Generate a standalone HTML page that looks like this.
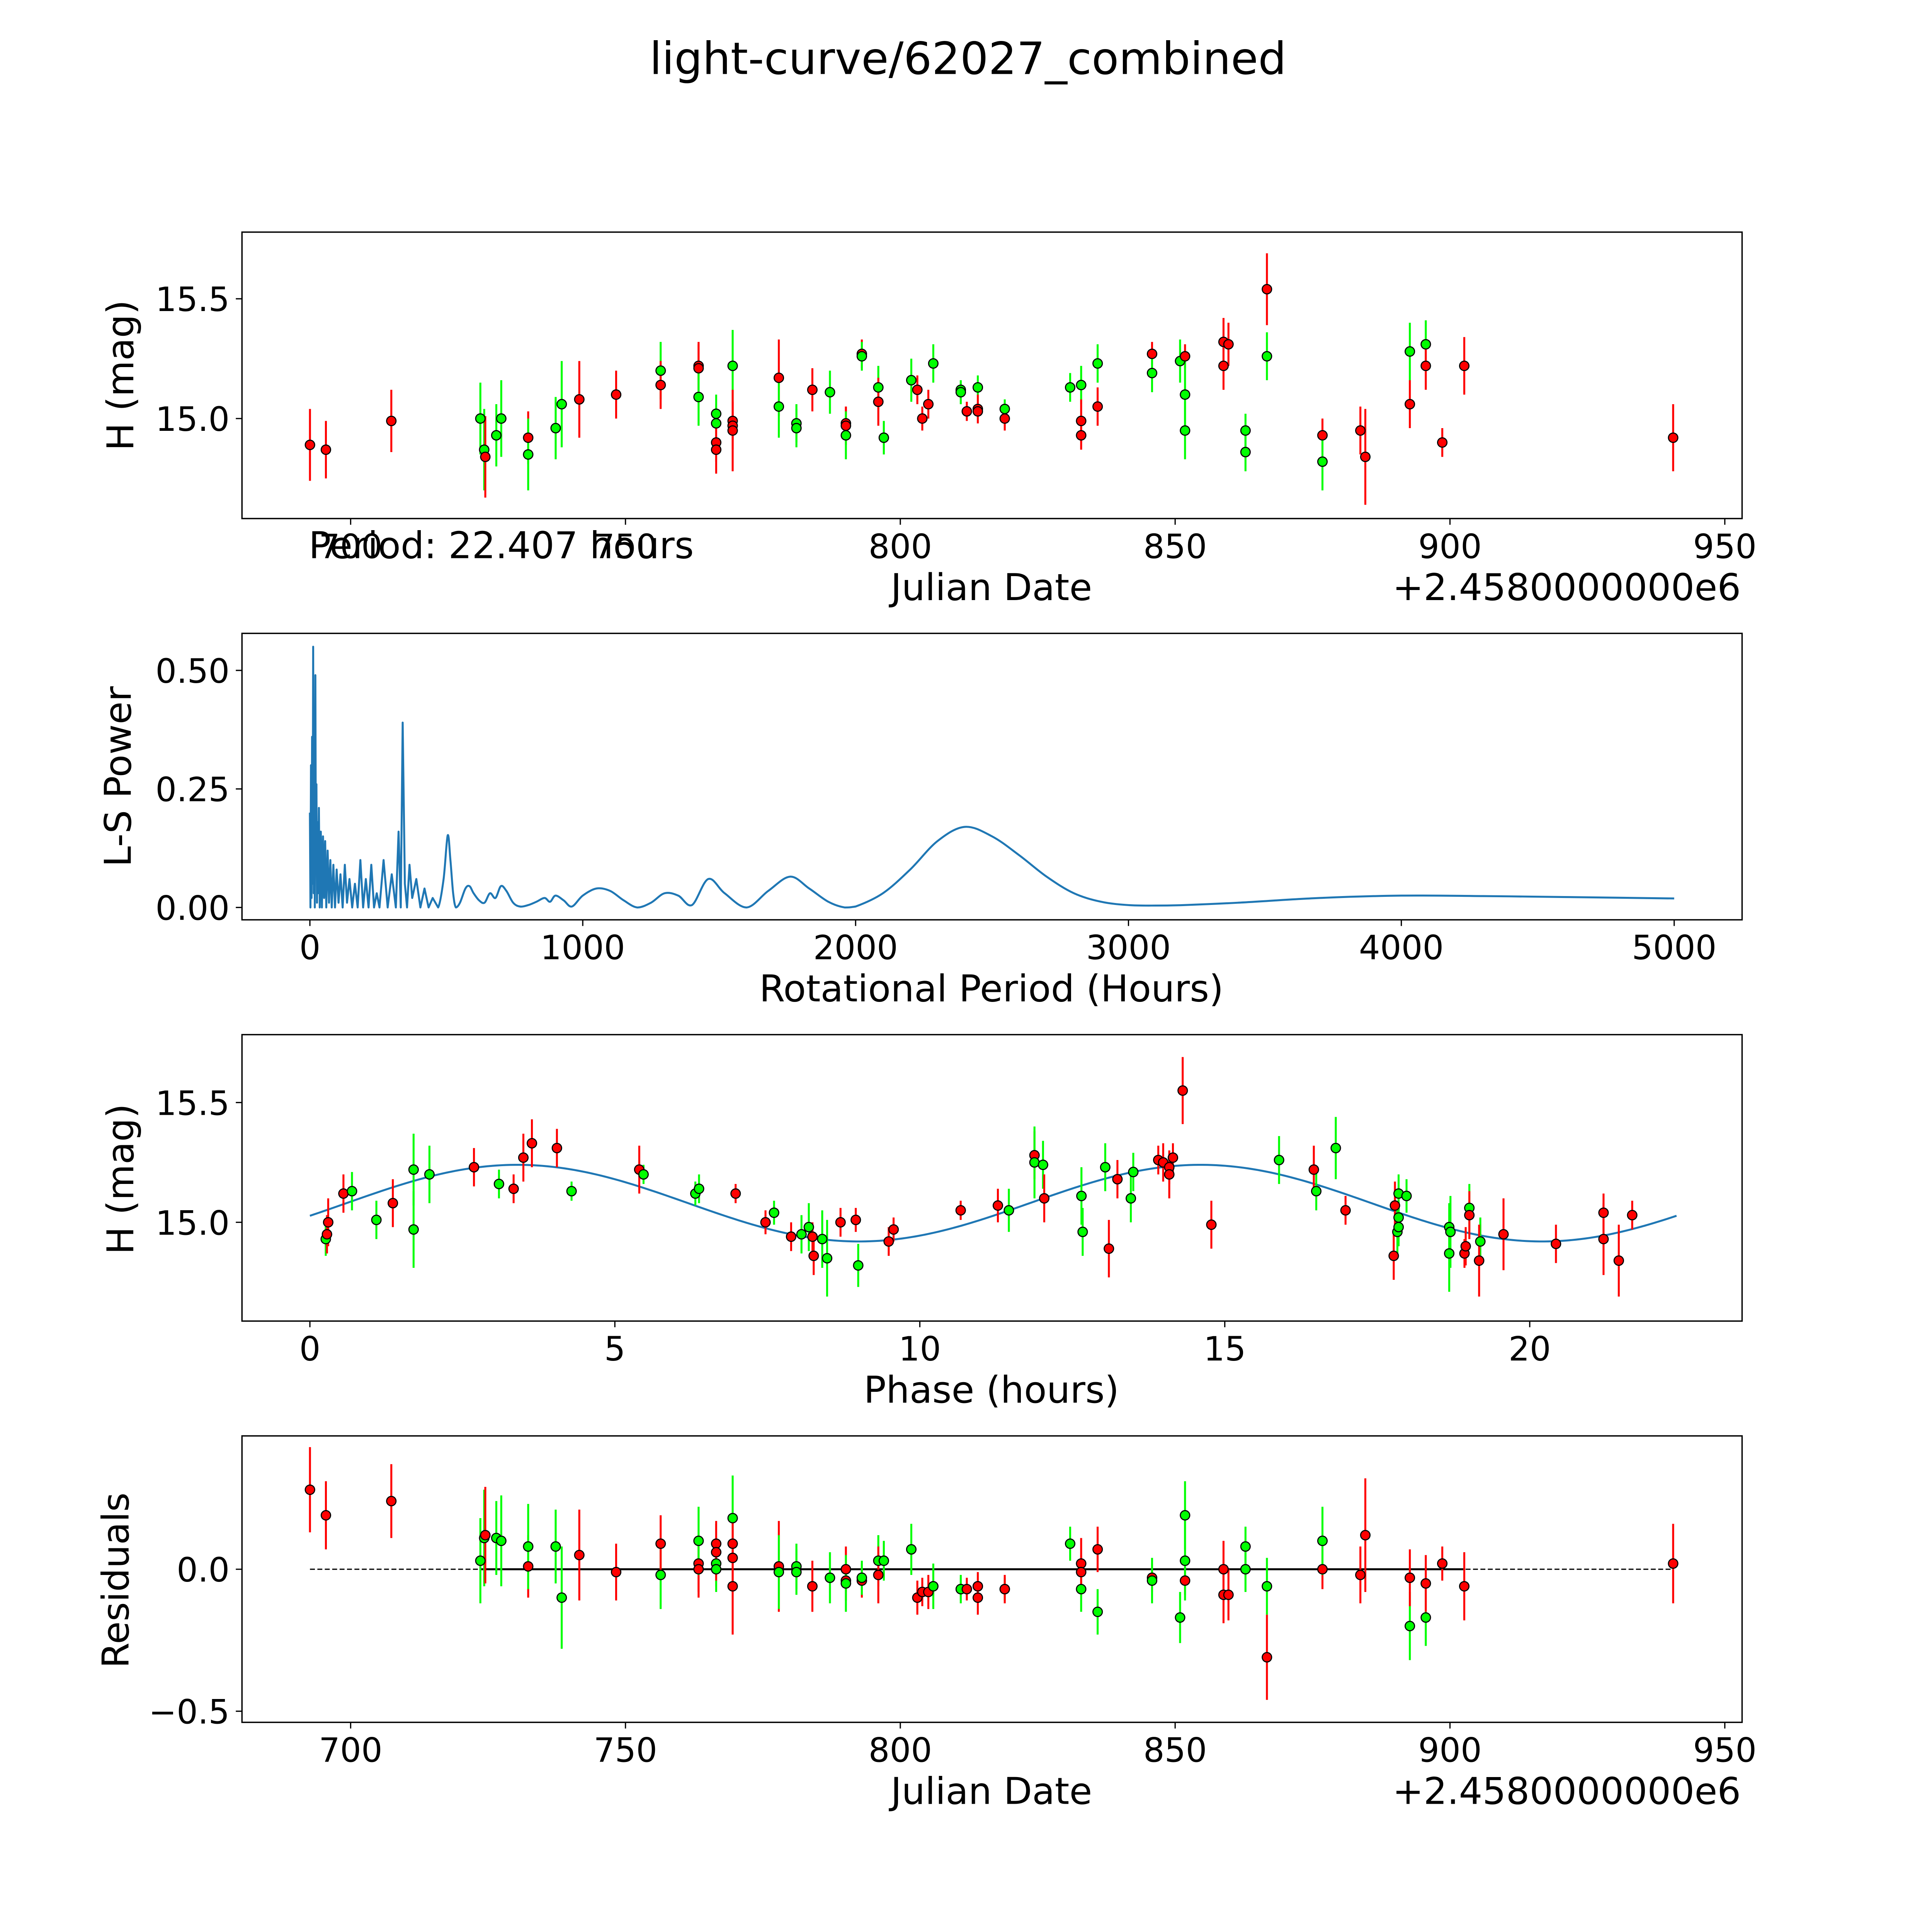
<!DOCTYPE html>
<html><head><meta charset="utf-8"><style>
html,body{margin:0;padding:0;background:#fff;width:5400px;height:5400px;overflow:hidden;}
svg{display:block;width:5400px;height:5400px;font-family:"DejaVu Sans","Liberation Sans",sans-serif;}
</style></head><body>
<svg id="fig" width="5400" height="5400" viewBox="0 0 1690 1690" preserveAspectRatio="xMinYMin meet" xmlns="http://www.w3.org/2000/svg">
<rect x="0" y="0" width="1690" height="1690" fill="#fff"/>
<text x="784" y="60" font-size="36" text-anchor="middle">light-curve/62027_combined</text>
</svg>
<script>
// ---------- Panel 1: light curve (Julian Date offset, mag) ----------
const lcDays = [692.6,695.5,707.4,723.6,724.3,724.5,726.5,727.4,732.3,732.3,737.3,738.4,741.6,748.3,756.4,756.4,763.3,763.3,763.3,766.5,766.5,766.5,766.5,769.5,769.5,769.5,769.5,777.9,777.9,781.1,781.1,784.0,787.2,790.1,790.1,790.1,793.0,793.0,796.0,796.0,797.0,802.0,803.1,804.0,805.1,806.0,811.0,811.0,812.1,814.1,814.1,814.1,819.0,819.0,830.9,832.9,832.9,832.9,835.9,835.9,845.8,845.8,850.9,851.8,851.8,851.8,858.8,858.8,859.7,862.8,862.8,866.7,866.7,876.8,876.8,883.7,884.6,892.7,892.7,895.6,895.6,898.6,902.6,940.6];
const lcMags = [14.89,14.87,14.99,15.0,14.87,14.84,14.93,15.0,14.92,14.85,14.96,15.06,15.08,15.10,15.20,15.14,15.22,15.21,15.09,15.02,14.98,14.90,14.87,15.22,14.99,14.97,14.95,15.17,15.05,14.98,14.96,15.12,15.11,14.98,14.97,14.93,15.27,15.26,15.13,15.07,14.92,15.16,15.12,15.0,15.06,15.23,15.12,15.11,15.03,15.13,15.04,15.03,15.04,15.0,15.13,15.14,14.99,14.93,15.23,15.05,15.27,15.19,15.24,15.26,15.10,14.95,15.32,15.22,15.31,14.95,14.86,15.54,15.26,14.93,14.82,14.95,14.84,15.28,15.06,15.31,15.22,14.90,15.22,14.92];
const lcErrs = [0.15,0.12,0.13,0.15,0.17,0.17,0.13,0.16,0.11,0.15,0.13,0.18,0.16,0.1,0.12,0.1,0.1,0.1,0.12,0.08,0.08,0.08,0.1,0.15,0.08,0.1,0.17,0.16,0.13,0.08,0.08,0.09,0.09,0.07,0.08,0.1,0.06,0.06,0.09,0.1,0.07,0.09,0.06,0.05,0.06,0.08,0.04,0.05,0.04,0.05,0.06,0.05,0.04,0.05,0.06,0.08,0.09,0.06,0.08,0.08,0.05,0.08,0.09,0.05,0.14,0.12,0.1,0.1,0.09,0.07,0.08,0.15,0.1,0.07,0.12,0.1,0.2,0.12,0.1,0.1,0.1,0.06,0.12,0.14];
const lcFilters = ["r","r","r","g","g","r","g","g","r","g","g","g","r","r","g","r","r","r","g","g","g","r","r","g","r","r","r","r","g","g","g","r","g","r","r","g","r","g","g","r","g","g","r","r","r","g","g","g","r","g","r","r","g","r","g","g","r","r","g","r","r","g","g","r","g","g","r","r","r","g","g","r","g","r","g","r","r","g","r","g","r","r","r","r"];
// ---------- Panel 4: residuals (same observations as panel 1) ----------
const residuals = [0.28,0.19,0.24,0.03,0.11,0.12,0.11,0.10,0.01,0.08,0.08,-0.10,0.05,-0.01,-0.02,0.09,0.02,0.0,0.10,0.02,0.0,0.09,0.06,0.18,0.09,0.04,-0.06,0.01,-0.01,0.01,-0.01,-0.06,-0.03,-0.04,0.0,-0.05,-0.04,-0.03,0.03,-0.02,0.03,0.07,-0.10,-0.08,-0.08,-0.06,-0.07,-0.07,-0.07,-0.06,-0.10,-0.06,-0.07,-0.07,0.09,-0.07,0.02,-0.01,-0.15,0.07,-0.03,-0.04,-0.17,-0.04,0.03,0.19,0.0,-0.09,-0.09,0.08,0.0,-0.31,-0.06,0.0,0.10,-0.02,0.12,-0.20,-0.03,-0.17,-0.05,0.02,-0.06,0.02];
// ---------- Panel 3: phased light curve ----------
const phaseHours = [0.26,0.28,0.30,0.55,0.69,1.09,1.36,1.70,1.70,1.96,2.69,3.10,3.34,3.50,3.64,4.05,4.29,5.40,5.47,6.32,6.38,6.98,7.47,7.61,7.89,8.06,8.18,8.24,8.26,8.40,8.48,8.70,8.95,8.99,9.49,9.57,10.67,11.28,11.46,11.88,11.88,12.02,12.04,12.65,12.67,13.10,13.04,13.24,13.46,13.50,13.91,13.99,14.09,14.15,14.09,14.31,14.78,15.89,16.46,16.50,16.82,16.98,17.79,17.77,17.83,17.85,17.85,17.85,17.98,18.68,18.70,18.68,18.93,18.95,19.01,19.01,19.19,19.17,19.57,20.43,21.21,21.21,21.46,21.68];
const phaseMags = [14.93,14.95,15.0,15.12,15.13,15.01,15.08,15.22,14.97,15.20,15.23,15.16,15.14,15.27,15.33,15.31,15.13,15.22,15.20,15.12,15.14,15.12,15.0,15.04,14.94,14.95,14.98,14.94,14.86,14.93,14.85,15.0,15.01,14.82,14.92,14.97,15.05,15.07,15.05,15.28,15.25,15.24,15.10,15.11,14.96,14.89,15.23,15.18,15.10,15.21,15.26,15.25,15.23,15.27,15.20,15.55,14.99,15.26,15.22,15.13,15.31,15.05,15.07,14.86,14.96,14.98,15.02,15.12,15.11,14.98,14.96,14.87,14.87,14.90,15.06,15.03,14.92,14.84,14.95,14.91,15.04,14.93,14.84,15.03];
const phaseErrs = [0.07,0.08,0.1,0.08,0.08,0.08,0.1,0.15,0.16,0.12,0.08,0.06,0.06,0.1,0.1,0.08,0.04,0.1,0.04,0.05,0.06,0.04,0.05,0.05,0.06,0.08,0.1,0.06,0.08,0.12,0.16,0.06,0.05,0.09,0.06,0.05,0.04,0.07,0.09,0.1,0.15,0.1,0.1,0.12,0.1,0.12,0.1,0.08,0.1,0.08,0.06,0.08,0.07,0.06,0.1,0.14,0.1,0.1,0.1,0.08,0.13,0.06,0.1,0.1,0.1,0.08,0.08,0.08,0.07,0.1,0.15,0.16,0.06,0.08,0.1,0.1,0.1,0.15,0.15,0.08,0.08,0.15,0.15,0.06];
const phaseFilters = ["g","r","r","r","g","g","r","g","g","g","r","g","r","r","r","r","g","r","g","g","g","r","r","g","r","g","g","r","r","g","g","r","r","g","r","r","r","r","g","r","g","g","r","g","g","r","g","r","g","g","r","r","r","r","r","r","r","g","r","g","g","r","r","r","g","g","g","g","g","g","g","g","r","r","g","r","g","r","r","r","r","r","r","r"];
const fitPeriod = [22.407];
const fitParams = [15.08, 0.16, 3.4]; // mean, amplitude, peak phase (2-harmonic)
// ---------- Panel 2: periodogram ----------
const lsPeriods = [0,2,4,6,8,10,12,14,16,18,20,22,24,26,28,30,33,36,40,44,48,52,56,60,65,70,75,80,86,92,98,105,112,120,128,136,145,155,165,175,185,195,205,215,225,235,245,255,270,285,300,315,325,333,340,348,356,365,375,390,405,420,435,450,470,490,505,515,525,535,550,570,585,600,620,640,660,680,700,720,745,770,800,830,860,880,900,930,960,1000,1050,1100,1150,1200,1250,1300,1350,1400,1460,1520,1600,1680,1760,1830,1900,1960,2000,2100,2200,2300,2400,2500,2600,2700,2800,2900,3000,3100,3200,3400,3700,4000,4300,4600,5000];
const lsPower = [0.2,0.0,0.3,0.02,0.36,0.05,0.55,0.03,0.42,0.0,0.49,0.1,0.26,0.01,0.18,0.03,0.21,0.0,0.16,0.0,0.15,0.02,0.14,0.0,0.12,0.01,0.1,0.0,0.09,0.0,0.08,0.01,0.07,0.0,0.09,0.01,0.06,0.0,0.05,0.0,0.1,0.0,0.06,0.0,0.09,0.0,0.03,0.0,0.1,0.0,0.07,0.0,0.16,0.0,0.39,0.05,0.0,0.09,0.02,0.06,0.0,0.04,0.0,0.02,0.0,0.06,0.152,0.1,0.03,0.0,0.01,0.04,0.045,0.03,0.015,0.01,0.03,0.02,0.045,0.035,0.01,0.002,0.005,0.012,0.02,0.012,0.025,0.015,0.002,0.025,0.04,0.035,0.015,0.0,0.01,0.03,0.025,0.005,0.06,0.03,0.0,0.035,0.065,0.04,0.012,0.0,0.002,0.03,0.08,0.14,0.17,0.15,0.11,0.065,0.03,0.012,0.005,0.004,0.005,0.01,0.02,0.025,0.024,0.022,0.019];

const NS = "http://www.w3.org/2000/svg";
const svg = document.getElementById('fig');
const TICK_FS = 27, LABEL_FS = 30;
function el(tag, attrs, parent){ const e=document.createElementNS(NS,tag); for(const k in attrs) e.setAttribute(k,attrs[k]); (parent||svg).appendChild(e); return e; }
function txt(x,y,s,size,anchor,parent){ const t=el('text',{x:x,y:y,'font-size':size,'text-anchor':anchor},parent); t.textContent=s; return t; }
function lin(d0,d1,p0,p1){ return v=>p0+(v-d0)*(p1-p0)/(d1-d0); }
const COL={r:'#ff0000',g:'#00ff00'};

function frame(y0,y1,name){
  const g=el('g',{});
  
  
  const r=el('rect',{x:196,y:y0,width:1215,height:y1-y0,fill:'none',stroke:'#000','stroke-width':1.1},g);
  
  
  return g;
}
function xTicks(g,sx,vals,labels,yb){
  vals.forEach((v,i)=>{ const x=sx(v);
    el('line',{x1:x,x2:x,y1:yb,y2:yb+5,stroke:'#000','stroke-width':1},g);
    const t=txt(x,yb+32,labels[i],TICK_FS,'middle',g);
    
    
  });
}
function yTicks(g,sy,vals,labels){
  vals.forEach((v,i)=>{ const y=sy(v);
    el('line',{x1:191,x2:196,y1:y,y2:y,stroke:'#000','stroke-width':1},g);
    const t=txt(186,y+10,labels[i],TICK_FS,'end',g);
    
    
  });
}
function yLabel(g,x,y,s){
  const t=txt(0,0,s,LABEL_FS,'middle',g);
  t.setAttribute('transform','translate('+x+','+y+') rotate(-90)');
  
  
}
function xLabel(g,x,y,s){
  const t=txt(x,y,s,LABEL_FS,'middle',g);
  
  
}
function points(g,xs,ys,errs,fil,sx,sy){
  xs.forEach((xv,i)=>{
    const x=sx(xv);
    const e1=sy(ys[i]+errs[i]), e2=sy(ys[i]-errs[i]);
    const bar=el('line',{x1:x,x2:x,y1:e1,y2:e2,stroke:COL[fil[i]],'stroke-width':1.6},g);
    
    
  });
  xs.forEach((xv,i)=>{
    const c=el('circle',{cx:sx(xv),cy:sy(ys[i]),r:3.8,fill:COL[fil[i]],stroke:'#000','stroke-width':0.9},g);
    
    
  });
}

// Panel 1
const sxJD=lin(700,950,284,1397);
(function(){
  const g=frame(188,420,'light-curve-panel');
  const sy=lin(15.0,15.5,339,242);
  yTicks(g,sy,[15.0,15.5],['15.0','15.5']);
  xTicks(g,sxJD,[700,750,800,850,900,950],['700','750','800','850','900','950'],420);
  points(g,lcDays,lcMags,lcErrs,lcFilters,sxJD,sy);
  yLabel(g,108,304,'H (mag)');
  xLabel(g,803,486,'Julian Date');
  const o=txt(1410,486,'+2.4580000000e6',LABEL_FS,'end',g);
  
  
  const p=txt(250,452,'Period: '+fitPeriod[0].toFixed(3)+' hours',LABEL_FS,'start',g);
  
  
})();

// Panel 2
(function(){
  const g=frame(513,745,'periodogram-panel');
  const sx=lin(0,5000,251,1356), sy=lin(0,0.5,735,543);
  yTicks(g,sy,[0,0.25,0.5],['0.00','0.25','0.50']);
  xTicks(g,sx,[0,1000,2000,3000,4000,5000],['0','1000','2000','3000','4000','5000'],745);
  const P=lsPeriods.map((p,i)=>[sx(p),sy(lsPower[i])]);
  let d='M'+P[0][0].toFixed(2)+','+P[0][1].toFixed(2);
  for(let i=1;i<P.length;i++){
    if(lsPeriods[i]<=480){ d+='L'+P[i][0].toFixed(2)+','+P[i][1].toFixed(2); continue; }
    const p0=P[Math.max(i-2,0)],p1=P[i-1],p2=P[i],p3=P[Math.min(i+1,P.length-1)];
    const c1=[p1[0]+(p2[0]-p0[0])/6,p1[1]+(p2[1]-p0[1])/6];
    const c2=[p2[0]-(p3[0]-p1[0])/6,p2[1]-(p3[1]-p1[1])/6];
    d+='C'+c1[0].toFixed(2)+','+Math.min(c1[1],735).toFixed(2)+' '+c2[0].toFixed(2)+','+Math.min(c2[1],735).toFixed(2)+' '+p2[0].toFixed(2)+','+p2[1].toFixed(2);
  }
  const path=el('path',{d:d,fill:'none',stroke:'#1f77b4','stroke-width':1.6,'stroke-linejoin':'round'},g);
  
  
  yLabel(g,106,629,'L-S Power');
  xLabel(g,803,811,'Rotational Period (Hours)');
})();

// Panel 3
(function(){
  const g=frame(838,1070,'phased-curve-panel');
  const sx=lin(0,20,251,1239), sy=lin(15.0,15.5,990,893);
  yTicks(g,sy,[15.0,15.5],['15.0','15.5']);
  xTicks(g,sx,[0,5,10,15,20],['0','5','10','15','20'],1070);
  let d='';
  const N=300;
  for(let k=0;k<=N;k++){ const t=fitPeriod[0]*k/N;
    const m=fitParams[0]+fitParams[1]*Math.cos(4*Math.PI*(t-fitParams[2])/fitPeriod[0]);
    d+=(k?'L':'M')+sx(t).toFixed(2)+','+sy(m).toFixed(2); }
  const path=el('path',{d:d,fill:'none',stroke:'#1f77b4','stroke-width':1.6},g);
  
  
  points(g,phaseHours,phaseMags,phaseErrs,phaseFilters,sx,sy);
  yLabel(g,108,955,'H (mag)');
  xLabel(g,803,1136,'Phase (hours)');
})();

// Panel 4
(function(){
  const g=frame(1163,1395,'residuals-panel');
  const sy=lin(0,-0.5,1271,1386);
  yTicks(g,sy,[0,-0.5],['0.0','\u22120.5']);
  xTicks(g,sxJD,[700,750,800,850,900,950],['700','750','800','850','900','950'],1395);
  const dl=el('line',{x1:sxJD(lcDays[0]),x2:sxJD(lcDays[lcDays.length-1]),y1:sy(0),y2:sy(0),stroke:'#000','stroke-width':1,'stroke-dasharray':'4,2'},g);
  
  
  const sl=el('line',{x1:sxJD(723.6),x2:sxJD(902.6),y1:sy(0),y2:sy(0),stroke:'#000','stroke-width':1.6},g);
  
  
  points(g,lcDays,residuals,lcErrs,lcFilters,sxJD,sy);
  yLabel(g,104,1280,'Residuals');
  xLabel(g,803,1461,'Julian Date');
  const o=txt(1410,1461,'+2.4580000000e6',LABEL_FS,'end',g);
  
  
})();
</script>
</body></html>
